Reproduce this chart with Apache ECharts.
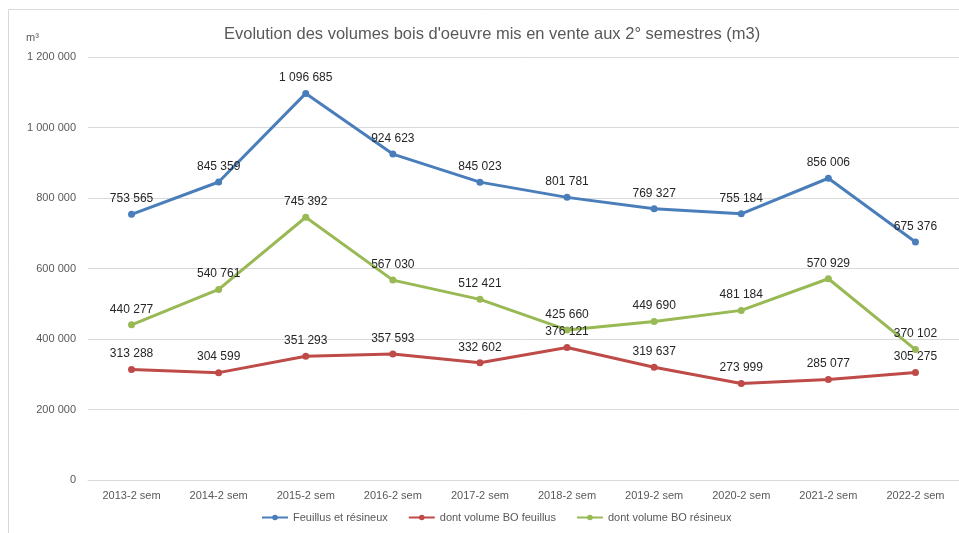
<!DOCTYPE html>
<html>
<head>
<meta charset="utf-8">
<script src="https://cdn.jsdelivr.net/npm/echarts@6/dist/echarts.min.js"></script>
<style>
  html, body { margin: 0; padding: 0; background: #fff; }
  #chart { width: 959px; height: 533px; }
</style>
</head>
<body>
<div id="chart"></div>
<script>
// données
const categories = ['2013-2 sem', '2014-2 sem', '2015-2 sem', '2016-2 sem', '2017-2 sem',
  '2018-2 sem', '2019-2 sem', '2020-2 sem', '2021-2 sem', '2022-2 sem'];
const totalValues = [753565, 845359, 1096685, 924623, 845023, 801781, 769327, 755184, 856006, 675376];
const feuillusValues = [313288, 304599, 351293, 357593, 332602, 376121, 319637, 273999, 285077, 305275];
const resineuxValues = [440277, 540761, 745392, 567030, 512421, 425660, 449690, 481184, 570929, 370102];
const seriesNames = ['Feuillus et résineux', 'dont volume BO feuillus', 'dont volume BO résineux'];

const fontFamily = 'Liberation Sans, Arial, sans-serif';

// séparateur de milliers : espace
function fmt(v) {
  return String(v).replace(/\B(?=(\d{3})+(?!\d))/g, ' ');
}

function makeSeries(name, data, color) {
  return {
    name: name,
    type: 'line',
    data: data,
    symbol: 'circle',
    symbolSize: 7,
    lineStyle: { width: 3, color: color },
    itemStyle: { color: color },
    label: {
      show: true,
      position: 'top',
      distance: 6,
      color: '#262626',
      fontSize: 12,
      fontFamily: fontFamily,
      formatter: (p) => fmt(p.value)
    }
  };
}

const chart = echarts.init(document.getElementById('chart'));
chart.setOption({
  animation: false,
  title: {
    text: "Evolution des volumes bois d'oeuvre mis en vente aux 2° semestres (m3)",
    left: 219,
    top: 21,
    textStyle: { color: '#595959', fontSize: 16.5, fontWeight: 'normal', fontFamily: fontFamily }
  },
  graphic: [
    {
      type: 'rect',
      shape: { x: 8.5, y: 9.5, width: 1000, height: 600 },
      style: { fill: 'none', stroke: '#d9d9d9', lineWidth: 1 }
    },
    {
      type: 'text',
      left: 26,
      top: 32,
      style: { text: 'm³', fill: '#595959', fontSize: 11, fontFamily: fontFamily }
    }
  ],
  legend: {
    bottom: 5,
    left: 256,
    itemWidth: 26,
    itemHeight: 7,
    itemGap: 20,
    textStyle: { color: '#595959', fontSize: 11, fontFamily: fontFamily },
    data: seriesNames
  },
  grid: { left: 88, top: 57, width: 878, height: 423, containLabel: false },
  xAxis: {
    type: 'category',
    data: categories,
    boundaryGap: true,
    axisLine: { show: true, lineStyle: { color: '#d9d9d9' } },
    axisTick: { show: false },
    axisLabel: { color: '#595959', fontSize: 11, fontFamily: fontFamily, margin: 10 }
  },
  yAxis: {
    type: 'value',
    min: 0,
    max: 1200000,
    interval: 200000,
    axisLine: { show: false },
    axisTick: { show: false },
    splitLine: { lineStyle: { color: '#d9d9d9' } },
    axisLabel: { color: '#595959', fontSize: 11, fontFamily: fontFamily, margin: 12, formatter: fmt }
  },
  series: [
    makeSeries(seriesNames[0], totalValues, '#4a7ebb'),
    makeSeries(seriesNames[1], feuillusValues, '#be4b48'),
    makeSeries(seriesNames[2], resineuxValues, '#98b954')
  ]
});
</script>
</body>
</html>
